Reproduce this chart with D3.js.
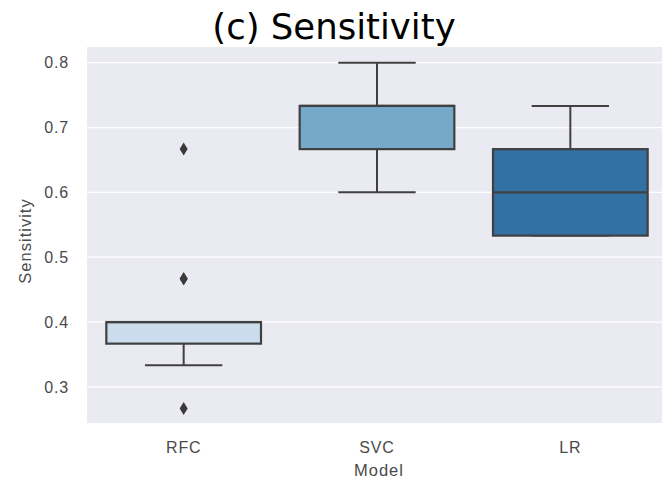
<!DOCTYPE html>
<html>
<head>
    <script src="https://d3js.org/d3.v7.min.js"></script>
    <style>
        body { margin: 0; background: #fff; overflow: hidden; }
        .tick text { font-family: "Liberation Sans", Arial, sans-serif; font-size: 16px; letter-spacing: 0.8px; fill: #4a4a4a; }
        .lbl { font-family: "Liberation Sans", Arial, sans-serif; font-size: 16.5px; letter-spacing: 1px; fill: #4a4a4a; }
        .title { font-family: "DejaVu Sans", Verdana, sans-serif; font-size: 35.5px; fill: #000; }
    </style>
</head>
<body>
<div id="chart"></div>
<script>
const models = ["RFC", "SVC", "LR"];
const boxColors = ["#cbdcec", "#75a8c9", "#3370a3"];
// [whiskerLow, q1, median, q3, whiskerHigh]
const boxStats = [
    [0.3333, 0.3667, 0.4, 0.4, 0.4],
    [0.6, 0.6667, 0.7333, 0.7333, 0.8],
    [0.5333, 0.5333, 0.6, 0.6667, 0.7333]
];
const outliers = [
    [0.6667, 0.4667, 0.4667, 0.2667],
    [],
    []
];
const yTicks = [0.3, 0.4, 0.5, 0.6, 0.7, 0.8];

const W = 662, H = 483;
const margin = { top: 47, right: -5, bottom: 60, left: 87 };
const width = W - margin.left - margin.right,
      height = H - margin.top - margin.bottom;

const svg = d3.select("#chart").append("svg")
    .attr("width", W).attr("height", H);

const g = svg.append("g").attr("transform", `translate(${margin.left},${margin.top})`);

const band = d3.scaleBand().domain(models).range([0, width]);
const y = d3.scaleLinear().domain([0.2443, 0.8242]).range([height, 0]);

g.append("rect").attr("width", width).attr("height", height).attr("fill", "#eaeaf2");

g.selectAll(".grid").data(yTicks).enter().append("line")
    .attr("x1", 0).attr("x2", width)
    .attr("y1", d => y(d)).attr("y2", d => y(d))
    .attr("stroke", "#fff").attr("stroke-width", 1.3);

const yAxis = g.append("g").call(d3.axisLeft(y).tickValues(yTicks).tickFormat(d3.format(".1f")).tickSize(0).tickPadding(18));
yAxis.select(".domain").remove();

const xAxis = g.append("g").attr("transform", `translate(0,${height})`)
    .call(d3.axisBottom(band).tickSize(0).tickPadding(19));
xAxis.select(".domain").remove();

const stroke = "#404040";
const boxW = band.bandwidth() * 0.8;

models.forEach((m, i) => {
    const s = boxStats[i];
    const cx = band(m) + band.bandwidth() / 2;
    const grp = g.append("g");
    // whiskers
    grp.append("line").attr("x1", cx).attr("x2", cx).attr("y1", y(s[0])).attr("y2", y(s[1]))
        .attr("stroke", stroke).attr("stroke-width", 2);
    grp.append("line").attr("x1", cx).attr("x2", cx).attr("y1", y(s[3])).attr("y2", y(s[4]))
        .attr("stroke", stroke).attr("stroke-width", 2);
    [s[0], s[4]].forEach(v => {
        grp.append("line").attr("x1", cx - boxW / 4).attr("x2", cx + boxW / 4)
            .attr("y1", y(v)).attr("y2", y(v)).attr("stroke", stroke).attr("stroke-width", 2);
    });
    grp.append("rect").attr("x", cx - boxW / 2).attr("width", boxW)
        .attr("y", y(s[3])).attr("height", y(s[1]) - y(s[3]))
        .attr("fill", boxColors[i]).attr("stroke", stroke).attr("stroke-width", 2.2);
    grp.append("line").attr("x1", cx - boxW / 2).attr("x2", cx + boxW / 2)
        .attr("y1", y(s[2])).attr("y2", y(s[2])).attr("stroke", stroke).attr("stroke-width", 2.2);
    grp.selectAll("path").data(outliers[i]).enter().append("path")
        .attr("d", d => `M${cx},${y(d) - 6.5}L${cx + 4},${y(d)}L${cx},${y(d) + 6.5}L${cx - 4},${y(d)}Z`)
        .attr("fill", "#3a3a3a");
});

svg.append("text").attr("class", "title").attr("x", 334).attr("y", 39)
    .attr("text-anchor", "middle").text("(c) Sensitivity");

svg.append("text").attr("class", "lbl").attr("x", 379).attr("y", 476)
    .attr("text-anchor", "middle").text("Model");

svg.append("text").attr("class", "lbl")
    .attr("transform", "translate(31,241) rotate(-90)")
    .attr("text-anchor", "middle").text("Sensitivity");
</script>
</body>
</html>
